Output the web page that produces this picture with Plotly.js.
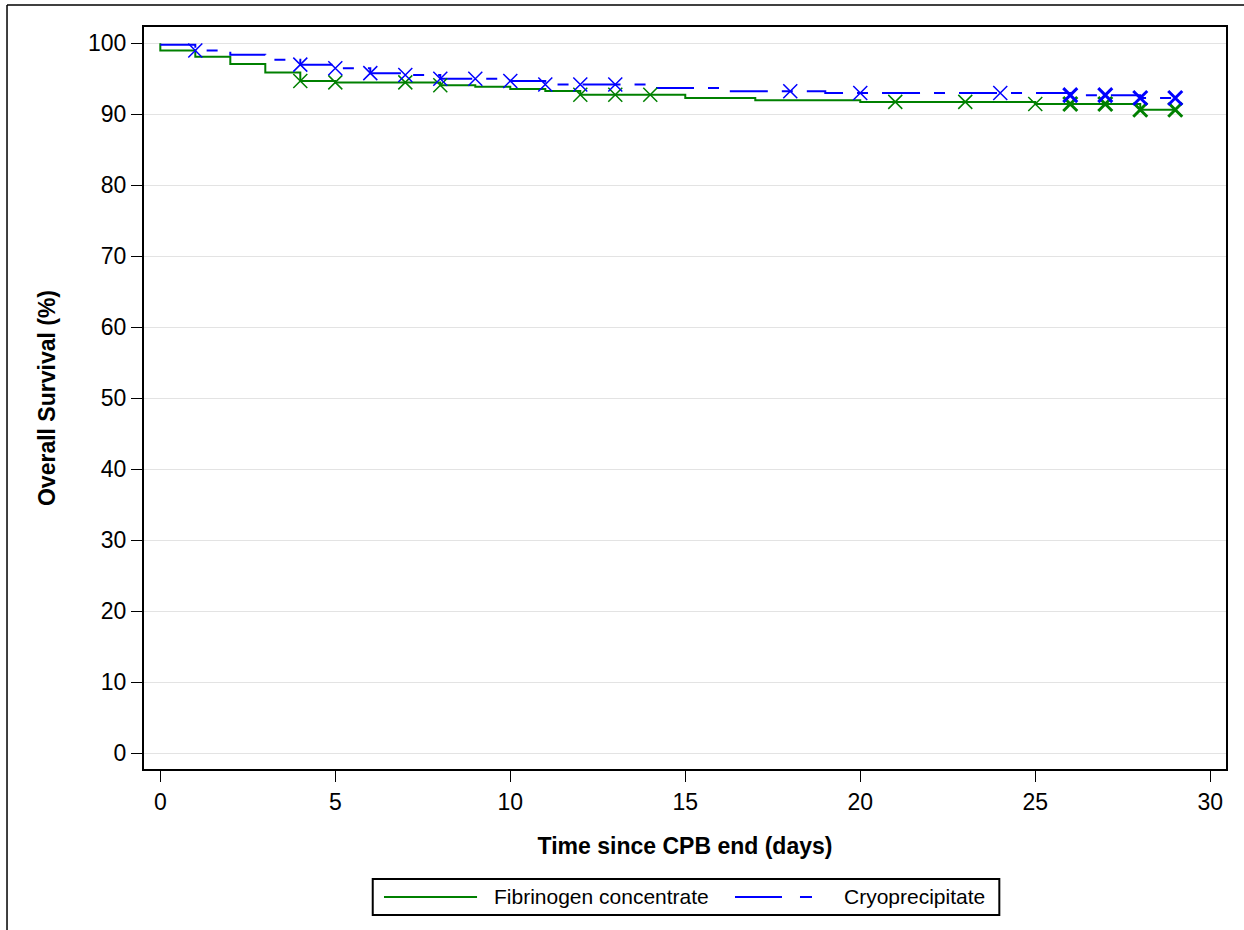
<!DOCTYPE html>
<html>
<head>
<meta charset="utf-8">
<script src="https://cdn.plot.ly/plotly-3.0.1.min.js"></script>
<style>html,body{margin:0;padding:0;background:#fff;}#chart{width:1244px;height:930px;}</style>
</head>
<body>
<div id="chart"></div>
<script>
// ---- data ----
const seriesNames = ["Fibrinogen concentrate", "Cryoprecipitate"];
const xTitle = "Time since CPB end (days)";
const yTitle = "Overall Survival (%)";
const xTicks = [0, 5, 10, 15, 20, 25, 30];
const yTicks = [0, 10, 20, 30, 40, 50, 60, 70, 80, 90, 100];

// Kaplan-Meier step points (time in days, survival %)
const fibTime = [0, 0, 1, 2, 3, 4, 5, 8, 9, 10, 11, 12, 15, 17, 20, 25, 28, 29];
const fibSurv = [100, 99.0, 98.1, 97.1, 95.9, 94.7, 94.5, 94.1, 93.9, 93.55, 93.3, 92.75, 92.3, 92.0, 91.75, 91.45, 90.65, 90.65];
const cryoTime = [0, 1, 2, 3, 4, 5, 6, 7, 8, 10, 11, 14, 16, 19, 26, 28, 29];
const cryoSurv = [99.8, 99.0, 98.4, 97.7, 97.0, 96.5, 95.8, 95.55, 95.0, 94.7, 94.2, 93.7, 93.25, 93.0, 92.7, 92.3, 92.3];

// censored observations (time, number censored at that time)
const fibCensTime = [4, 5, 7, 8, 12, 13, 14, 21, 23, 25, 26, 27, 28, 29];
const fibCensCount = [1, 1, 1, 1, 1, 1, 1, 1, 1, 1, 3, 3, 3, 3];
const cryoCensTime = [1, 4, 5, 6, 7, 8, 9, 10, 11, 12, 13, 18, 20, 24, 26, 27, 28, 29];
const cryoCensCount = [1, 1, 1, 1, 1, 1, 1, 1, 1, 1, 1, 1, 1, 1, 3, 3, 3, 3];

// ---- helpers ----
function stepAt(times, surv, t) {
  let v = surv[0];
  for (let i = 0; i < times.length; i++) { if (times[i] <= t) v = surv[i]; }
  return v;
}
const GREEN = "#008000", BLUE = "#0000FF";
const FONT = "Liberation Sans, Arial, sans-serif";

const traces = [
  {x: fibTime, y: fibSurv, mode: "lines", line: {shape: "hv", color: GREEN, width: 2}, name: seriesNames[0], showlegend: false, hoverinfo: "skip"},
  {x: cryoTime, y: cryoSurv, mode: "lines", line: {shape: "hv", color: BLUE, width: 2, dash: "38px,14px,11px,14px"}, name: seriesNames[1], showlegend: false, hoverinfo: "skip"},
  {x: fibCensTime, y: fibCensTime.map(t => stepAt(fibTime, fibSurv, t)), mode: "markers", showlegend: false,
   marker: {symbol: "x-thin-open", size: 14, color: GREEN, line: {color: GREEN, width: fibCensCount.map(c => c > 1 ? 3 : 1.5)}}},
  {x: cryoCensTime, y: cryoCensTime.map(t => stepAt(cryoTime, cryoSurv, t)), mode: "markers", showlegend: false,
   marker: {symbol: "x-thin-open", size: 14, color: BLUE, line: {color: BLUE, width: cryoCensCount.map(c => c > 1 ? 3 : 1.5)}}}
];

const legY = -0.1725;
const layout = {
  width: 1244, height: 930,
  margin: {l: 144, r: 18, t: 27, b: 161},
  paper_bgcolor: "#fff", plot_bgcolor: "#fff",
  font: {family: FONT, size: 21, color: "#000"},
  showlegend: false,
  xaxis: {
    range: [-0.466, 30.45], tickvals: xTicks, ticktext: xTicks.map(String),
    showgrid: false, zeroline: false, showline: true, mirror: true, linecolor: "#000", linewidth: 2,
    ticks: "outside", ticklen: 11, tickwidth: 1.5, tickcolor: "#000",
    tickfont: {family: FONT, size: 23},
    title: {text: "<b>" + xTitle + "</b>", font: {family: FONT, size: 23}, standoff: 24}
  },
  yaxis: {
    range: [-2.21, 102.3], tickvals: yTicks, ticktext: yTicks.map(String),
    showgrid: true, gridcolor: "#e3e3e3", gridwidth: 1.5, zeroline: false,
    showline: true, mirror: true, linecolor: "#000", linewidth: 2,
    ticks: "outside", ticklen: 11, tickwidth: 1.5, tickcolor: "#000",
    tickfont: {family: FONT, size: 23},
    title: {text: "<b>" + yTitle + "</b>", font: {family: FONT, size: 23}, standoff: 26}
  },
  shapes: [
    // outer frame lines
    {type: "line", xref: "paper", yref: "paper", x0: -0.1266, x1: 1.2, y0: 1.0296, y1: 1.0296, line: {color: "#000", width: 1.5}},
    {type: "line", xref: "paper", yref: "paper", x0: -0.1266, x1: -0.1266, y0: 1.0296, y1: -0.3, line: {color: "#000", width: 1.5}},
    // legend box
    {type: "rect", xref: "paper", yref: "paper", x0: 0.2114, x1: 0.7905, y0: -0.1968, y1: -0.1482, line: {color: "#000", width: 2}, fillcolor: "rgba(0,0,0,0)"},
    {type: "line", xref: "paper", yref: "paper", x0: 0.2218, x1: 0.3078, y0: legY, y1: legY, line: {color: GREEN, width: 2}},
    {type: "line", xref: "paper", yref: "paper", x0: 0.5462, x1: 0.6174, y0: legY, y1: legY, line: {color: BLUE, width: 2, dash: "47px,18px,12px"}}
  ],
  annotations: [
    {xref: "paper", yref: "paper", x: 0.3213, y: legY, xanchor: "left", yanchor: "middle", text: seriesNames[0], showarrow: false, font: {family: FONT, size: 21}},
    {xref: "paper", yref: "paper", x: 0.6448, y: legY, xanchor: "left", yanchor: "middle", text: seriesNames[1], showarrow: false, font: {family: FONT, size: 21}}
  ]
};

Plotly.newPlot("chart", traces, layout, {displayModeBar: false, staticPlot: true});
</script>
</body>
</html>
